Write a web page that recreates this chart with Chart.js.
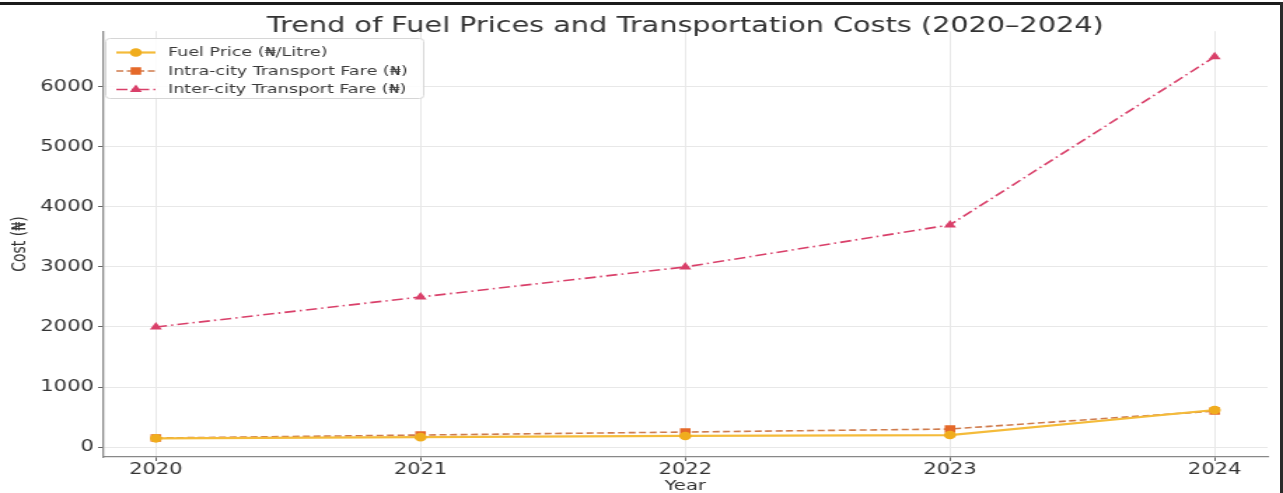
<!DOCTYPE html>
<html>
<head>
<meta charset="utf-8">
<script src="https://cdn.jsdelivr.net/npm/chart.js@4.4.1/dist/chart.umd.min.js"></script>
<style>
  html, body { margin: 0; padding: 0; background: #fff; overflow: hidden; }
  body { width: 1283px; height: 493px; position: relative; }
  #wrap { position: absolute; left: 0; top: 0; width: 916px; height: 493px;
          transform: scaleX(1.40066); transform-origin: 0 0; }
  .frame-top { position: absolute; left: 0; top: 2px; width: 1283px; height: 3px; background: #1b1b1b; }
  .frame-right { position: absolute; right: 0; top: 2px; width: 3px; height: 491px; background: #2a2a2a; }
</style>
</head>
<body>
<div id="wrap"><canvas id="chart" width="916" height="493"></canvas></div>
<div class="frame-top"></div>
<div class="frame-right"></div>
<script>
// data
const years = [2020, 2021, 2022, 2023, 2024];
const fuelPrice = [145, 165, 185, 200, 617];
const intraFare = [150, 200, 250, 300, 600];
const interFare = [2000, 2500, 3000, 3700, 6500];
const yTicks = [0, 1000, 2000, 3000, 4000, 5000, 6000];

const FONT = "'DejaVu Sans', sans-serif";

const toPoints = (vals) => vals.map((v, i) => ({ x: years[i], y: v }));

// legend box in the upper left, matplotlib style
const boxLegend = {
  id: 'boxLegend',
  afterDraw(chart) {
    const ctx = chart.ctx;
    const x0 = 75, y0 = 38, w = 227, h = 60;
    ctx.save();
    ctx.fillStyle = 'rgba(255,255,255,0.85)';
    ctx.strokeStyle = '#d6d6d6';
    ctx.lineWidth = 1;
    ctx.beginPath();
    ctx.roundRect(x0 + 0.5, y0 + 0.5, w, h, 3);
    ctx.fill();
    ctx.stroke();

    const rows = [52.5, 71, 89.5];
    chart.data.datasets.forEach((ds, i) => {
      const y = rows[i];
      ctx.strokeStyle = ds.borderColor;
      ctx.lineWidth = ds.borderWidth;
      ctx.setLineDash(ds.borderDash || []);
      ctx.beginPath();
      ctx.moveTo(83, y);
      ctx.lineTo(111, y);
      ctx.stroke();
      ctx.setLineDash([]);
      ctx.fillStyle = ds.pointBackgroundColor;
      ctx.strokeStyle = ds.pointBorderColor;
      Chart.helpers.drawPoint(ctx, {
        pointStyle: ds.pointStyle,
        radius: ds.pointRadius,
        borderWidth: 1,
      }, 97, y);
      ctx.fillStyle = '#3a3a3a';
      ctx.font = '12.5px ' + FONT;
      ctx.textBaseline = 'middle';
      ctx.fillText(ds.label, 120, y + 0.5);
    });
    ctx.restore();
  }
};

new Chart(document.getElementById('chart'), {
  type: 'line',
  data: {
    datasets: [
      {
        label: 'Fuel Price (₦/Litre)',
        data: toPoints(fuelPrice),
        borderColor: '#f4bb3a',
        backgroundColor: '#f4bb3a',
        borderWidth: 2.2,
        pointStyle: 'circle',
        pointRadius: 3.2,
        pointBackgroundColor: '#f0ad1e',
        pointBorderColor: '#f0ad1e',
      },
      {
        label: 'Intra-city Transport Fare (₦)',
        data: toPoints(intraFare),
        borderColor: '#cf7b4c',
        backgroundColor: '#e5692a',
        borderWidth: 1.6,
        borderDash: [5, 2.5],
        pointStyle: 'rect',
        pointRadius: 4.2,
        pointBackgroundColor: '#e5692a',
        pointBorderColor: '#e5692a',
      },
      {
        label: 'Inter-city Transport Fare (₦)',
        data: toPoints(interFare),
        borderColor: '#d9406a',
        backgroundColor: '#d9406a',
        borderWidth: 1.6,
        borderDash: [8, 3, 1.5, 3],
        pointStyle: 'triangle',
        pointRadius: 3.4,
        pointBackgroundColor: '#d9406a',
        pointBorderColor: '#d9406a',
      },
    ],
  },
  options: {
    responsive: false,
    animation: false,
    devicePixelRatio: 1,
    layout: { padding: { left: 0, right: 11, top: 0, bottom: 0 } },
    plugins: {
      legend: { display: false },
      tooltip: { enabled: false },
      title: {
        display: true,
        fullSize: false,
        text: 'Trend of Fuel Prices and Transportation Costs (2020–2024)',
        color: '#333',
        font: { family: FONT, size: 20.5, weight: 'normal', lineHeight: 0.4 },
        padding: { top: 23, bottom: 0 },
      },
    },
    scales: {
      x: {
        type: 'linear',
        min: 2019.8,
        max: 2024.2,
        afterBuildTicks: (s) => { s.ticks = years.map(v => ({ value: v })); },
        afterFit: (s) => { s.height = 36; },
        ticks: {
          color: '#333',
          font: { family: FONT, size: 15 },
          padding: 0,
          callback: (v) => String(v),
        },
        grid: { color: '#e8e8e8', lineWidth: 1, tickLength: 4, tickColor: '#666' },
        border: { display: true, color: '#888', width: 1.3 },
        title: {
          display: true,
          text: 'Year',
          color: '#333',
          font: { family: FONT, size: 14, lineHeight: 1.0 },
          padding: { top: 0, bottom: 0 },
        },
      },
      y: {
        min: -166,
        max: 6927,
        afterBuildTicks: (s) => { s.ticks = yTicks.map(v => ({ value: v })); },
        afterFit: (s) => { s.width = 73.5; },
        ticks: {
          color: '#333',
          font: { family: FONT, size: 15 },
          padding: 3,
          callback: (v) => String(v),
        },
        grid: { color: '#e8e8e8', lineWidth: 1, tickLength: 3.5, tickColor: '#666' },
        border: { display: true, color: '#888', width: 1.3 },
        title: {
          display: true,
          text: 'Cost (₦)',
          color: '#333',
          font: { family: FONT, size: 14 },
          padding: { top: 6, bottom: 0 },
        },
      },
    },
  },
  plugins: [boxLegend],
});
</script>
</body>
</html>
